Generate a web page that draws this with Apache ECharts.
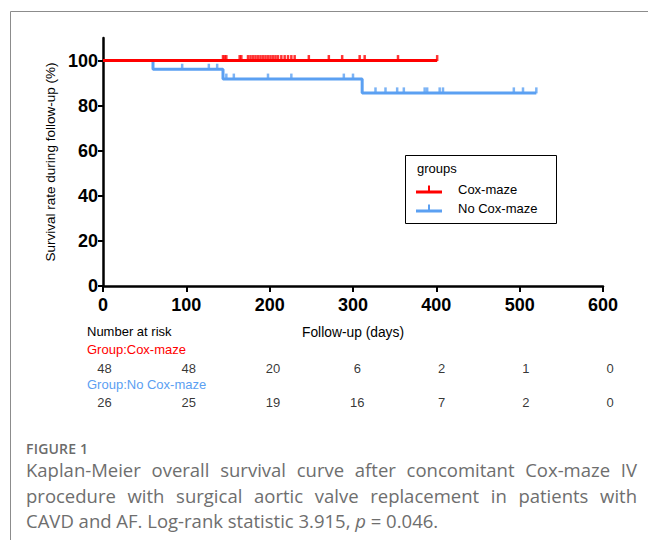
<!DOCTYPE html>
<html>
<head>
<meta charset="utf-8">
<script src="https://cdn.jsdelivr.net/npm/echarts@6/dist/echarts.min.js"></script>
<style>
  html, body { margin: 0; padding: 0; background: #fff; }
  #wrap { position: relative; width: 648px; height: 540px; overflow: hidden; }
  #chart { position: absolute; left: 0; top: 0; width: 648px; height: 540px; }
  #caption { position: absolute; left: 26px; top: 440px; width: 611px; font-family: 'Open Sans', sans-serif; color: #6e6e6e; }
  #caption .fig { font-size: 14px; line-height: 17px; font-weight: 600; letter-spacing: 0.2px; color: #6b6b6b; }
  #caption .ln { font-size: 18.5px; line-height: 25.7px; text-align: justify; text-align-last: justify; white-space: nowrap; }
  #caption .ln.last { text-align-last: left; }
</style>
</head>
<body>
<div id="wrap">
  <div id="chart"></div>
  <div id="caption">
    <div class="fig">FIGURE 1</div>
    <div class="ln">Kaplan-Meier overall survival curve after concomitant Cox-maze IV</div>
    <div class="ln">procedure with surgical aortic valve replacement in patients with</div>
    <div class="ln last">CAVD and AF. Log-rank statistic 3.915, <i>p</i> = 0.046.</div>
  </div>
</div>
<script>
var chart = echarts.init(document.getElementById('chart'), null, {renderer: 'svg'});

// survival curves (days, %)
var coxCurve = [[0, 100], [401, 100]];
var noCoxCurve = [[0, 100], [60, 96.15], [144, 91.78], [311, 85.66], [520, 85.66]];

// censored times (days)
var coxCensored = [144, 146, 148, 164, 166, 174, 177, 180, 183, 186, 189, 192, 195, 198,
    201, 204, 207, 210, 214, 218, 222, 226, 230, 247, 271, 287, 308, 314, 354, 401];
var noCoxCensored = [95, 127, 137, 148, 157, 198, 226, 289, 300, 327, 339, 353, 361,
    386, 389, 404, 408, 493, 504, 520];

// number at risk table
var riskTimes = [0, 100, 200, 300, 400, 500, 600];
var riskCox = [48, 48, 20, 6, 2, 1, 0];
var riskNoCox = [26, 25, 19, 16, 7, 2, 0];

var yTicks = [0, 20, 40, 60, 80, 100];

var RED = '#ff0000';
var BLUE = '#5ba0f2';
var FONT = 'Arial, "Liberation Sans", sans-serif';

// survival value at a censor time
function survAt(curve, t) {
    var s = curve[0][1];
    curve.forEach(function (p) {
        if (p[0] <= t) s = p[1];
    });
    return s;
}

function censorData(curve, times) {
    return times.map(function (t) {
        return [t, survAt(curve, t)];
    });
}

function riskData(name, counts) {
    return counts.map(function (n, i) {
        return [riskTimes[i], name, n];
    });
}

function riskSeries(name, counts) {
    return {
        name: 'risk ' + name,
        type: 'scatter',
        xAxisIndex: 1,
        yAxisIndex: 1,
        data: riskData(name, counts),
        symbolSize: 0,
        label: {
            show: true,
            position: 'inside',
            color: '#000',
            fontSize: 13,
            fontFamily: FONT,
            formatter: function (p) { return p.value[2]; }
        }
    };
}

var option = {
    backgroundColor: '#fff',
    animation: false,
    grid: [
        {left: 103, right: 45, top: 38, bottom: 254},
        {left: 104.6, width: 505.4, top: 351, height: 69}
    ],
    xAxis: [{
        type: 'value',
        gridIndex: 0,
        min: 0,
        max: 600,
        interval: 100,
        name: 'Follow-up (days)',
        nameLocation: 'middle',
        nameGap: 39,
        nameTextStyle: {color: '#000', fontSize: 13.8, fontFamily: FONT},
        splitLine: {show: false},
        axisLine: {lineStyle: {color: '#000', width: 2.5}},
        axisTick: {length: 6, lineStyle: {color: '#000', width: 2}},
        axisLabel: {
            color: '#000',
            fontSize: 18,
            fontWeight: 'bold',
            fontFamily: FONT,
            margin: 10
        }
    }, {
        type: 'value',
        gridIndex: 1,
        min: 0,
        max: 600,
        show: false
    }],
    yAxis: [{
        type: 'value',
        gridIndex: 0,
        min: 0,
        max: 110,
        interval: 20,
        name: 'Survival rate during follow-up (%)',
        nameLocation: 'middle',
        nameGap: 46,
        nameTextStyle: {color: '#000', fontSize: 13.5, fontFamily: FONT},
        splitLine: {show: false},
        axisLine: {lineStyle: {color: '#000', width: 2.5}},
        axisTick: {length: 5, lineStyle: {color: '#000', width: 2}, customValues: yTicks},
        axisLabel: {
            customValues: yTicks,
            color: '#000',
            fontSize: 18,
            fontWeight: 'bold',
            fontFamily: FONT,
            margin: 5,
            formatter: function (v) { return v > 100 ? '' : v; }
        }
    }, {
        type: 'category',
        gridIndex: 1,
        inverse: true,
        data: ['Cox-maze', 'No Cox-maze'],
        show: false
    }],
    legend: {
        data: ['Cox-maze', 'No Cox-maze'],
        orient: 'vertical',
        left: 416,
        top: 183,
        padding: 0,
        itemGap: 6,
        itemWidth: 26,
        itemHeight: 8,
        icon: 'path://M0,5 L26,5 L26,8 L0,8 Z M12,0 L14,0 L14,6 L12,6 Z',
        textStyle: {color: '#000', fontSize: 13, fontFamily: FONT, padding: [0, 0, 0, 11]}
    },
    graphic: [{
        type: 'rect',
        shape: {x: 10.5, y: 11.5, width: 700, height: 600},
        style: {fill: 'none', stroke: '#8c8c8c', lineWidth: 1},
        silent: true
    }, {
        type: 'rect',
        shape: {x: 405.5, y: 155.5, width: 151, height: 68},
        style: {fill: 'none', stroke: '#000', lineWidth: 1},
        silent: true
    }, {
        type: 'text',
        left: 417,
        top: 162,
        style: {text: 'groups', fill: '#000', fontSize: 13, fontFamily: FONT}
    }, {
        type: 'text',
        left: 87,
        top: 325,
        style: {text: 'Number at risk', fill: '#000', fontSize: 13, fontFamily: FONT}
    }, {
        type: 'text',
        left: 87,
        top: 343,
        style: {text: 'Group:Cox-maze', fill: RED, fontSize: 13, fontFamily: FONT}
    }, {
        type: 'text',
        left: 87,
        top: 377.5,
        style: {text: 'Group:No Cox-maze', fill: BLUE, fontSize: 13, fontFamily: FONT}
    }],
    series: [{
        name: 'No Cox-maze',
        type: 'line',
        step: 'end',
        data: noCoxCurve,
        symbol: 'none',
        color: BLUE,
        lineStyle: {color: BLUE, width: 3},
        z: 2
    }, {
        name: 'Cox-maze',
        type: 'line',
        step: 'end',
        data: coxCurve,
        symbol: 'none',
        color: RED,
        lineStyle: {color: RED, width: 3},
        z: 3
    }, {
        name: 'No Cox-maze censored',
        type: 'scatter',
        data: censorData(noCoxCurve, noCoxCensored),
        symbol: 'rect',
        symbolSize: [2.5, 6],
        symbolOffset: [0, -2.5],
        itemStyle: {color: BLUE},
        z: 2
    }, {
        name: 'Cox-maze censored',
        type: 'scatter',
        data: censorData(coxCurve, coxCensored),
        symbol: 'rect',
        symbolSize: [2.5, 6],
        symbolOffset: [0, -2.5],
        itemStyle: {color: RED},
        z: 3
    },
    riskSeries('Cox-maze', riskCox),
    riskSeries('No Cox-maze', riskNoCox)
    ]
};

chart.setOption(option);
</script>
</body>
</html>
